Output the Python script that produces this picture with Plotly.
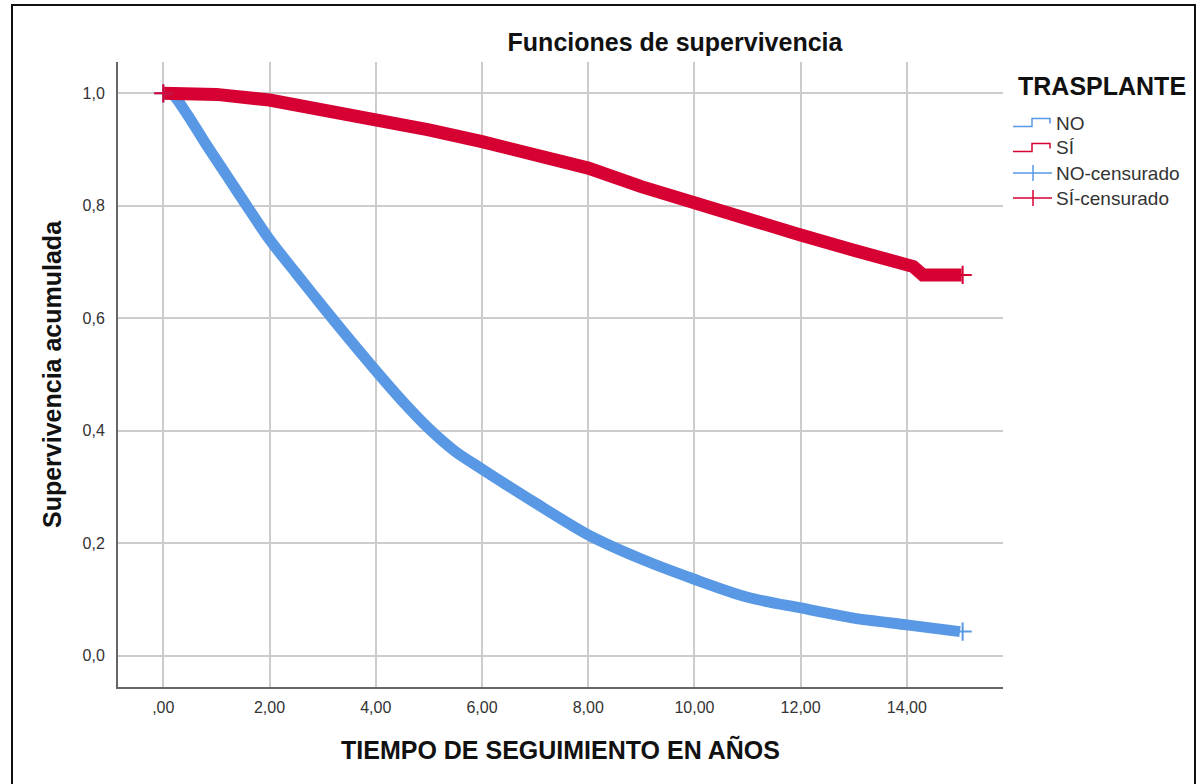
import plotly.graph_objects as go

# ---- data ----
no_t = [0, 0.15, 0.44, 0.82, 1.2, 1.57, 2.0, 2.5, 3.0, 3.5, 4.0, 4.5, 5.0, 5.5, 6.0, 7.0,
        8.0, 9.0, 10.0, 11.0, 12.0, 13.0, 14.0, 15.0]
no_s = [1.0, 1.0, 0.964, 0.907, 0.853, 0.80, 0.740, 0.680, 0.621, 0.563, 0.507, 0.453, 0.404,
        0.363, 0.332, 0.272, 0.215, 0.172, 0.136, 0.104, 0.085, 0.067, 0.055, 0.043]

si_t = [0, 0.7, 1.0, 2, 3, 4, 5, 6, 7, 8, 9, 10, 11, 12, 13, 14, 14.12, 14.3, 15.03]
si_s = [1.0, 1.0, 0.998, 0.988, 0.972, 0.954, 0.935, 0.914, 0.892, 0.867, 0.834, 0.804,
        0.775, 0.748, 0.721, 0.697, 0.692, 0.677, 0.677]

no_cens_t = [0.0, 15.05]
no_cens_s = [1.0, 0.043]
si_cens_t = [0.0, 15.05]
si_cens_s = [1.0, 0.677]

x_ticks = [0, 2, 4, 6, 8, 10, 12, 14]
x_ticktext = [",00", "2,00", "4,00", "6,00", "8,00", "10,00", "12,00", "14,00"]
y_ticks = [0.0, 0.2, 0.4, 0.6, 0.8, 1.0]
y_ticktext = ["0,0", "0,2", "0,4", "0,6", "0,8", "1,0"]

legend_title = "TRASPLANTE"
legend_names = ["NO", "SÍ", "NO-censurado", "SÍ-censurado"]

BLUE = "#5898E4"
RED = "#D60033"
FONT = "Liberation Sans, Arial, sans-serif"

fig = go.Figure()
fig.add_trace(go.Scatter(x=no_t, y=no_s, mode="lines", name="NO",
                         line=dict(color=BLUE, width=11, shape="spline", smoothing=0.8),
                         showlegend=False))
fig.add_trace(go.Scatter(x=si_t, y=si_s, mode="lines", name="SÍ",
                         line=dict(color=RED, width=13), showlegend=False))
fig.add_trace(go.Scatter(x=no_cens_t, y=no_cens_s, mode="markers", name="NO-censurado",
                         marker=dict(symbol="cross-thin-open", size=13, color=BLUE,
                                     line=dict(color=BLUE, width=2)),
                         showlegend=False))
fig.add_trace(go.Scatter(x=si_cens_t, y=si_cens_s, mode="markers", name="SÍ-censurado",
                         marker=dict(symbol="cross-thin-open", size=13, color=RED,
                                     line=dict(color=RED, width=2)),
                         showlegend=False))

W, H = 1199, 784
L, R, T, B = 118, 196, 62, 97
pw, ph = W - L - R, H - T - B


def px(xp):
    return (xp - L) / pw


def py(yp):
    return (H - B - yp) / ph


# ---- manual legend (annotations + icon shapes) ----
annotations = [dict(text="<b>" + legend_title + "</b>", xref="paper", yref="paper",
                    x=px(1016), y=py(86), xanchor="left", yanchor="middle",
                    showarrow=False, font=dict(size=25, color="#111111"))]
row_y = [123, 148, 173, 198]
row_col = [BLUE, RED, BLUE, RED]
shapes = []
for i, name in enumerate(legend_names):
    yc = row_y[i]
    annotations.append(dict(text=name, xref="paper", yref="paper",
                            x=px(1054), y=py(yc), xanchor="left", yanchor="middle",
                            showarrow=False, font=dict(size=19, color="#333333")))
    c = row_col[i]
    if i < 2:
        path = "M {} {} L {} {} L {} {} L {} {} L {} {}".format(
            px(1013), py(yc + 3.5), px(1032), py(yc + 3.5), px(1032), py(yc - 4.5),
            px(1050), py(yc - 4.5), px(1050), py(yc + 0.5))
        shapes.append(dict(type="path", xref="paper", yref="paper", path=path,
                           line=dict(color=c, width=1.5)))
    else:
        shapes.append(dict(type="line", xref="paper", yref="paper",
                           x0=px(1013), x1=px(1052), y0=py(yc), y1=py(yc),
                           line=dict(color=c, width=1.5)))
        shapes.append(dict(type="line", xref="paper", yref="paper",
                           x0=px(1033), x1=px(1033), y0=py(yc - 8), y1=py(yc + 8),
                           line=dict(color=c, width=1.5)))

# outer frame
shapes.append(dict(type="rect", xref="paper", yref="paper",
                   x0=px(12), x1=px(1195), y0=py(800), y1=py(5),
                   line=dict(color="#111111", width=2), fillcolor="rgba(0,0,0,0)",
                   layer="below"))

fig.update_layout(
    width=W, height=H,
    margin=dict(l=L, r=R, t=T, b=B, autoexpand=False),
    paper_bgcolor="white", plot_bgcolor="white",
    font=dict(family=FONT, color="#222222"),
    showlegend=False,
    title=dict(text="<b>Funciones de supervivencia</b>", x=px(675), xref="paper",
               xanchor="center", y=1 - 42 / H, yanchor="middle",
               font=dict(size=25, color="#111111")),
    xaxis=dict(range=[-0.853, 15.81], tickvals=x_ticks, ticktext=x_ticktext,
               showgrid=True, gridcolor="#CCCCCC", gridwidth=1.5,
               zeroline=False, showline=True, linecolor="#666666", linewidth=2,
               ticks="", tickfont=dict(size=16, color="#333333"),
               ticklabelstandoff=5, automargin=False,
               title=dict(text="<b>TIEMPO DE SEGUIMIENTO EN AÑOS</b>",
                          font=dict(size=25, color="#111111"), standoff=26)),
    yaxis=dict(range=[-0.0555, 1.0556], tickvals=y_ticks, ticktext=y_ticktext,
               showgrid=True, gridcolor="#CCCCCC", gridwidth=1.5,
               zeroline=False, showline=True, linecolor="#666666", linewidth=2,
               ticks="", tickfont=dict(size=16, color="#333333"),
               ticklabelstandoff=8, automargin=False,
               title=dict(text="<b>Supervivencia acumulada</b>",
                          font=dict(size=25, color="#111111"), standoff=14)),
    annotations=annotations,
    shapes=shapes,
)

fig.write_html("out.html", config={"displayModeBar": False},
               post_script="document.body.style.margin='0px';")
